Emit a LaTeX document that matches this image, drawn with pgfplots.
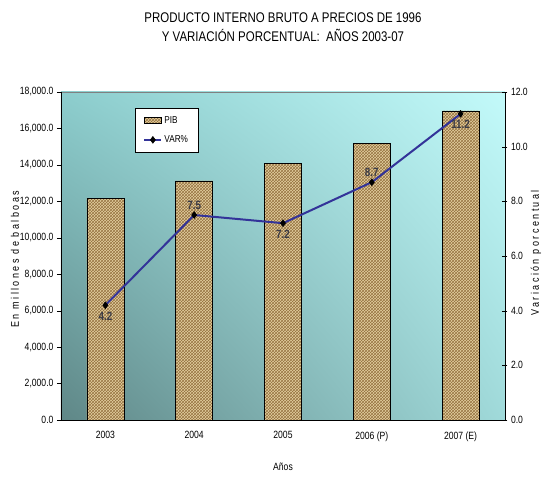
\documentclass[border=0pt]{standalone}
\usepackage{fontspec}
\setmainfont{Liberation Sans}[FakeStretch=0.82]
\usepackage{pgfplots}
\pgfplotsset{compat=1.18}
\usetikzlibrary{patterns,shadings}

\definecolor{bgll}{RGB}{95,135,135}
\definecolor{bgul}{RGB}{140,205,205}
\definecolor{bgur}{RGB}{195,250,250}
\definecolor{bglr}{RGB}{160,218,218}
\definecolor{bartan}{RGB}{228,208,160}
\definecolor{barbrown}{RGB}{150,115,65}
\definecolor{varline}{RGB}{51,51,153}
\definecolor{lblgray}{RGB}{60,60,70}

\begin{document}
\begin{tikzpicture}
\path[use as bounding box] (-61pt,-57pt) rectangle (488pt,420pt);

% PIB bars, left axis
\begin{axis}[
  scale only axis, width=444pt, height=328pt,
  xmin=-0.5, xmax=4.5, ymin=0, ymax=18000,
  enlargelimits=false,
  axis y line*=left, axis x line*=bottom,
  axis line style={black},
  axis background/.style={draw=gray, lower left=bgll, upper left=bgul, upper right=bgur, lower right=bglr},
  xtick={0,1,2,3,4},
  xticklabels={2003,2004,2005,2006 (P),2007 (E)},
  major x tick style={draw=none},
  extra x ticks={-0.5,0.5,1.5,2.5,3.5,4.5},
  extra x tick labels={},
  extra x tick style={major tick length=5pt, tick align=outside, major x tick style={black}},
  ytick={0,2000,...,18000},
  tick align=outside, major tick length=4pt,
  tick style={black},
  scaled y ticks=false,
  yticklabel style={/pgf/number format/.cd, fixed, fixed zerofill, precision=1, 1000 sep={,}, assume math mode=true},
  ticklabel style={font=\fontsize{10.5}{12}\selectfont},
  xticklabel style={yshift=-4pt},
  ylabel={\addfontfeatures{LetterSpace=22}En millones de balboas},
  every axis y label/.style={at={(axis description cs:-0.104,0.49)}, rotate=90, anchor=center, font=\fontsize{11}{13}\selectfont},
  xlabel={Años},
  every axis x label/.style={at={(axis description cs:0.5,0)}, yshift=-47pt, anchor=center, font=\fontsize{10.5}{12}\selectfont},
  title={PRODUCTO INTERNO BRUTO A PRECIOS DE 1996\\Y VARIACIÓN PORCENTUAL:\ \ AÑOS 2003-07},
  every axis title/.style={at={(axis description cs:0.5,1)}, yshift=65pt, anchor=center, align=center, font=\fontsize{14}{19}\selectfont},
]
\addplot[ybar, bar width=37pt, fill=bartan, draw=black,
  postaction={pattern=crosshatch, pattern color=barbrown}]
  coordinates {(0,12180) (1,13120) (2,14100) (3,15200) (4,16960)};
\end{axis}

% VAR% line, right axis
\begin{axis}[
  scale only axis, width=444pt, height=328pt,
  xmin=-0.5, xmax=4.5, ymin=0, ymax=12,
  enlargelimits=false,
  axis y line*=right, axis x line=none,
  axis line style={black},
  ytick={0,2,...,12},
  tick align=center, major tick length=5pt,
  tick style={black},
  yticklabel style={/pgf/number format/.cd, fixed, fixed zerofill, precision=1, assume math mode=true},
  ticklabel style={font=\fontsize{10.5}{12}\selectfont},
  ylabel={\addfontfeatures{LetterSpace=22}Variación porcentual},
  every axis y label/.style={at={(axis description cs:1.07,0.51)}, rotate=90, anchor=center, font=\fontsize{11}{13}\selectfont},
  legend style={at={(0.167,0.951)}, anchor=north west, draw=black, fill=white,
    font=\fontsize{10}{11}\selectfont, row sep=7pt, inner xsep=8pt, inner ysep=6pt},
  legend cell align=left,
]
\addlegendimage{area legend, fill=bartan, draw=black, postaction={pattern=crosshatch, pattern color=barbrown}}
\addlegendentry{PIB}
\addplot[color=varline, line width=2pt, mark=diamond*, mark size=3.5pt,
  mark options={fill=black, draw=black, line width=0.4pt}]
  coordinates {(0,4.2) (1,7.5) (2,7.2) (3,8.7) (4,11.2)};
\addlegendentry{VAR\%}
% data labels above the markers
\addplot[draw=none, forget plot, nodes near coords,
  nodes near coords={\pgfmathprintnumber[fixed,fixed zerofill,precision=1,assume math mode=true]{\pgfplotspointmeta}},
  every node near coord/.append style={anchor=south, yshift=2pt, text=lblgray, font=\bfseries\fontsize{12}{14}\selectfont}]
  coordinates {(1,7.5) (3,8.7)};
% data labels below the markers
\addplot[draw=none, forget plot, nodes near coords,
  nodes near coords={\pgfmathprintnumber[fixed,fixed zerofill,precision=1,assume math mode=true]{\pgfplotspointmeta}},
  every node near coord/.append style={anchor=north, yshift=-3pt, text=lblgray, font=\bfseries\fontsize{12}{14}\selectfont}]
  coordinates {(0,4.2) (2,7.2) (4,11.2)};
\end{axis}
\end{tikzpicture}
\end{document}
